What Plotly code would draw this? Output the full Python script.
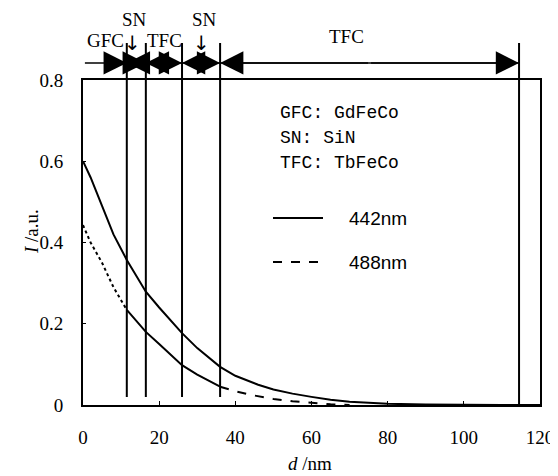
import plotly.graph_objects as go

# ---- data ----
d_442 = [0, 2, 5, 8, 11.5, 16.5, 20, 26, 30, 36, 40, 46, 50, 55, 60, 65, 70, 80, 90, 100, 110, 120]
i_442 = [0.60, 0.56, 0.49, 0.42, 0.357, 0.279, 0.24, 0.177, 0.14, 0.094, 0.072, 0.050, 0.038, 0.028, 0.020, 0.013, 0.008, 0.003, 0.001, 0.0, 0.0, 0.0]

d_488_a = [0, 2, 5, 8, 11.5]
i_488_a = [0.443, 0.40, 0.35, 0.29, 0.234]
d_488_b = [11.5, 16.5, 20, 26, 30, 36]
i_488_b = [0.234, 0.18, 0.15, 0.098, 0.075, 0.045]
d_488_c = [36, 40, 44, 50, 55, 60, 65, 70]
i_488_c = [0.045, 0.034, 0.025, 0.015, 0.009, 0.005, 0.002, 0.0]

layer_bounds = [11.5, 16.5, 26, 36, 114.5]
segments = [(0.5, 11.5, False), (11.5, 16.5, True), (16.5, 26, True), (26, 36, True), (36, 114.5, True)]

x_ticks = [0, 20, 40, 60, 80, 100, 120]
y_ticks = [0, 0.2, 0.4, 0.6, 0.8]
y_tick_text = ["0", "0.2", "0.4", "0.6", "0.8"]

serif = "Liberation Serif"
sans = "Liberation Sans"
mono = "Liberation Mono"

Y_MAX = 0.8


def py(v):
    """data y -> paper y"""
    return v / Y_MAX


fig = go.Figure()
fig.add_trace(go.Scatter(x=d_442, y=i_442, mode="lines", line=dict(color="black", width=2), showlegend=False))
fig.add_trace(go.Scatter(x=d_488_a, y=i_488_a, mode="lines", line=dict(color="black", width=2, dash="dot"), showlegend=False))
fig.add_trace(go.Scatter(x=d_488_b, y=i_488_b, mode="lines", line=dict(color="black", width=2), showlegend=False))
fig.add_trace(go.Scatter(x=d_488_c, y=i_488_c, mode="lines", line=dict(color="black", width=2, dash="dash"), showlegend=False))

shapes = []
for b in layer_bounds:
    y0 = 0 if b > 100 else py(0.02)
    shapes.append(dict(type="line", xref="x", yref="paper", x0=b, x1=b, y0=y0, y1=py(0.891),
                       line=dict(color="black", width=2)))
# top arrow baseline
y_arr = py(0.842)
shapes.append(dict(type="line", xref="x", yref="paper", x0=0.5, x1=114.5, y0=y_arr, y1=y_arr,
                   line=dict(color="black", width=1.5)))
# legend lines
shapes.append(dict(type="line", xref="paper", yref="paper", x0=(273-83)/457, x1=(323-83)/457,
                   y0=(405-218)/325, y1=(405-218)/325, line=dict(color="black", width=2)))
shapes.append(dict(type="line", xref="paper", yref="paper", x0=(273-83)/457, x1=(323-83)/457,
                   y0=(405-262)/325, y1=(405-262)/325, line=dict(color="black", width=2, dash="dash")))

ann = []
for a, b, both in segments:
    m = (a + b) / 2
    ann.append(dict(x=b, y=y_arr, ax=m, ay=0, xref="x", yref="paper", axref="x", ayref="pixel",
                    text="", showarrow=True, arrowhead=2, arrowsize=3.1, arrowwidth=1.5, arrowcolor="black"))
    if both:
        ann.append(dict(x=a, y=y_arr, ax=m, ay=0, xref="x", yref="paper", axref="x", ayref="pixel",
                        text="", showarrow=True, arrowhead=2, arrowsize=3.1, arrowwidth=1.5, arrowcolor="black"))

top_labels = [("GFC", 5.8, 0.898), ("SN", 13.6, 0.948), ("TFC", 21.3, 0.898), ("SN", 31.8, 0.948), ("TFC", 69.3, 0.906)]
for t, x, y in top_labels:
    ann.append(dict(x=x, y=py(y), xref="x", yref="paper", text=t, showarrow=False,
                    xanchor="center", yanchor="middle",
                    font=dict(family=serif, size=19, color="black")))
for x in [13.1, 31.0]:
    ann.append(dict(x=x, y=py(0.890), xref="x", yref="paper", text="↓", showarrow=False,
                    xanchor="center", yanchor="middle",
                    font=dict(family="DejaVu Sans", size=20, color="black")))

info = ["GFC: GdFeCo", "SN: SiN", "TFC: TbFeCo"]
for k, t in enumerate(info):
    ann.append(dict(x=(278-83)/457, y=(405-(113+25*k))/325, xref="paper", yref="paper", text=t,
                    showarrow=False, xanchor="left", yanchor="middle",
                    font=dict(family=mono, size=18, color="black")))
for t, ypx in [("442nm", 218), ("488nm", 262)]:
    ann.append(dict(x=(347-83)/457, y=(405-ypx)/325, xref="paper", yref="paper", text=t,
                    showarrow=False, xanchor="left", yanchor="middle",
                    font=dict(family=sans, size=19, color="black")))

ann.append(dict(x=(310-83)/457, y=(405-463)/325, xref="paper", yref="paper",
                xanchor="center", yanchor="middle",
                text="<i>d</i> /nm", showarrow=False, font=dict(family=serif, size=19, color="black")))
ann.append(dict(x=(31-83)/457, y=(405-232)/325, xref="paper", yref="paper", textangle=-90,
                xanchor="center", yanchor="middle",
                text="<i>I</i> /a.u.", showarrow=False, font=dict(family=serif, size=19, color="black")))

# page body has an 8px margin: shrink figure so the plot lands where the reference has it
fig.update_layout(
    width=550, height=468,
    margin=dict(l=75, r=18, t=72, b=71),
    paper_bgcolor="white", plot_bgcolor="white",
    shapes=shapes, annotations=ann,
    font=dict(family=serif, size=19, color="black"),
)
fig.update_xaxes(range=[0, 120], tickvals=x_ticks, showgrid=False, zeroline=False, automargin=False,
                 showline=True, mirror=True, linecolor="black", linewidth=2,
                 ticks="inside", ticklen=4, tickcolor="black", ticklabelstandoff=14)
fig.update_yaxes(range=[0, 0.8], tickvals=y_ticks, ticktext=y_tick_text, showgrid=False, zeroline=False,
                 automargin=False,
                 showline=True, mirror=True, linecolor="black", linewidth=2,
                 ticks="inside", ticklen=3, tickcolor="black", ticklabelstandoff=14)

fig.write_html("out.html")
